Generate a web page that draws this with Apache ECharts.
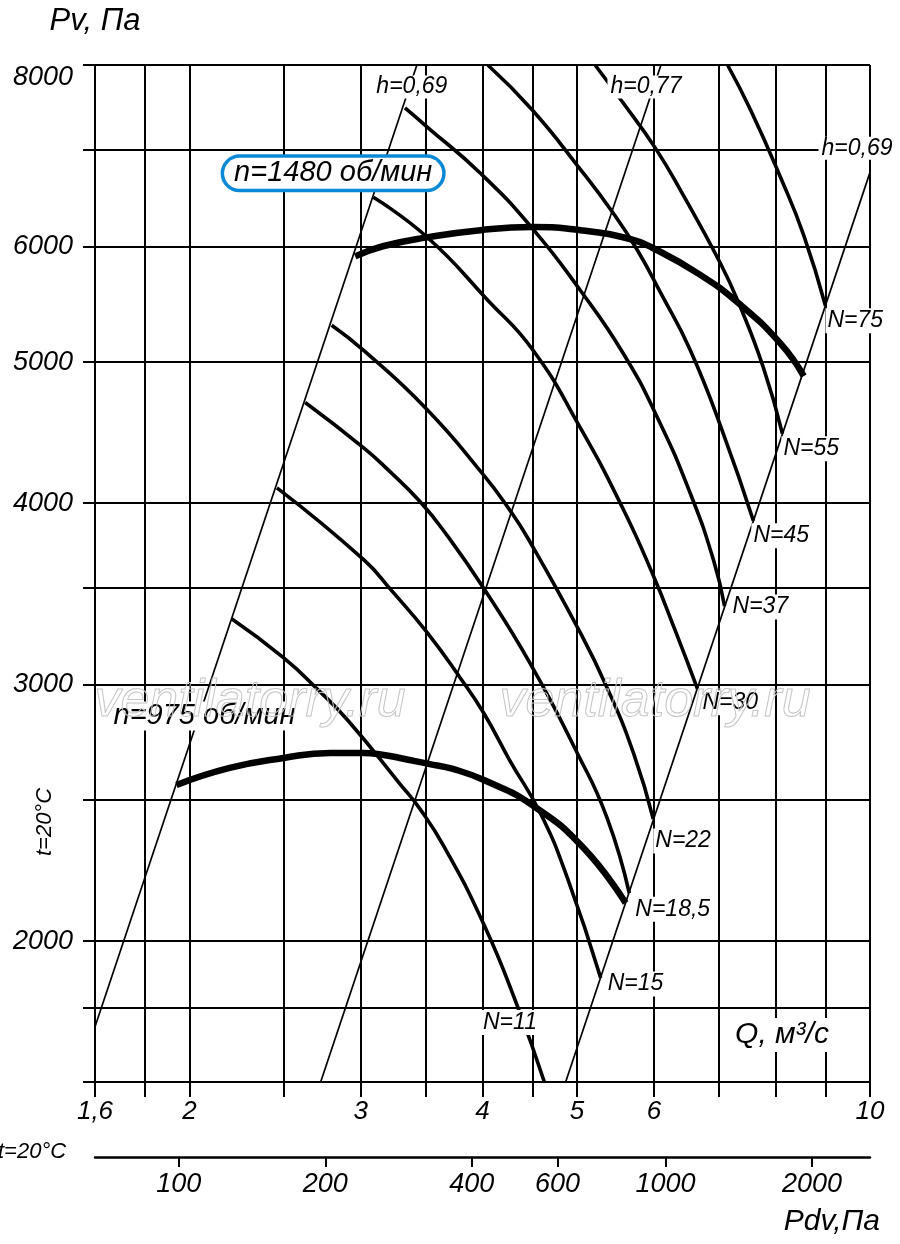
<!DOCTYPE html>
<html><head><meta charset="utf-8">
<script src="https://cdn.jsdelivr.net/npm/echarts@6/dist/echarts.min.js"></script>
<style>html,body{margin:0;padding:0;background:#fff}#c{width:900px;height:1244px}</style>
</head><body><div id="c"></div>
<script>
// ---------- axes ----------
const qGridTicks = [1.6, 1.8, 2, 2.5, 3, 3.5, 4, 4.5, 5, 6, 7, 8, 9, 10];
const qTickLabels = [1.6, 2, 3, 4, 5, 6, 10];
const pvGridTicks = [1600, 1800, 2000, 2500, 3000, 3500, 4000, 5000, 6000, 7000, 8000];
const pvTickLabels = [2000, 3000, 4000, 5000, 6000, 8000];
const pdvTicks = [100, 200, 400, 600, 1000, 2000];
const pdvRange = [67.3, 2630];   // Pdv at Q = 1.6 and Q = 10

// ---------- fan characteristics ----------
const fan1480Q  = [2.96, 3.16, 3.51, 3.98, 4.50, 5.04, 5.68, 5.99, 6.65, 7.31, 8.09, 8.55];
const fan1480Pv = [5910, 6005, 6090, 6160, 6190, 6160, 6072, 5986, 5755, 5495, 5150, 4890];
const fan975Q   = [1.94, 2.20, 2.50, 2.79, 3.02, 3.12, 3.29, 3.52, 3.73, 4.03, 4.51, 5.08, 5.61];
const fan975Pv  = [2560, 2630, 2672, 2693, 2693, 2689, 2672, 2647, 2626, 2577, 2477, 2317, 2124];

// ---------- power curves ----------
const n11Q  = [2.21, 2.50, 2.72, 2.91, 3.29, 3.45, 3.65, 4.01, 4.35, 4.63];
const n11Pv = [3330, 3130, 2970, 2835, 2565, 2465, 2324, 2055, 1800, 1600];
const n15Q  = [2.46, 3.02, 3.23, 3.51, 3.80, 4.01, 4.27, 4.59, 4.89, 5.29];
const n15Pv = [4097, 3657, 3479, 3258, 3029, 2870, 2659, 2446, 2209, 1886];
const n18Q  = [2.63, 3.02, 3.20, 3.45, 3.68, 4.01, 4.48, 5.01, 5.37, 5.66];
const n18Pv = [4689, 4365, 4215, 4009, 3799, 3496, 3101, 2689, 2430, 2157];
const n22Q  = [2.80, 3.02, 3.50, 4.00, 4.27, 4.45, 5.01, 5.37, 5.72, 5.99];
const n22Pv = [5299, 5092, 4645, 4190, 3952, 3786, 3283, 2986, 2689, 2426];
const n30Q  = [3.09, 3.51, 4.05, 4.51, 5.04, 5.57, 5.99, 6.31, 6.65];
const n30Pv = [6489, 6091, 5514, 5092, 4506, 3970, 3566, 3268, 2981];
const n37Q  = [3.33, 3.51, 3.98, 4.50, 5.04, 5.58, 6.05, 6.54, 6.91, 7.09];
const n37Pv = [7474, 7252, 6741, 6178, 5601, 5068, 4578, 4059, 3651, 3398];
const n45Q  = [4.05, 4.50, 5.02, 5.45, 5.77, 6.09, 6.54, 7.07, 7.59];
const n45Pv = [8000, 7450, 6807, 6327, 5967, 5584, 5092, 4463, 3889];
const n55Q  = [5.22, 5.57, 6.02, 6.43, 7.02, 7.31, 7.77, 8.13];
const n55Pv = [8000, 7545, 7014, 6510, 5846, 5514, 4958, 4463];
const n75Q  = [7.14, 7.54, 8.09, 8.55, 9.00];
const n75Pv = [8000, 7450, 6700, 6110, 5465];
const powerNames = ['N=11', 'N=15', 'N=18,5', 'N=22', 'N=30', 'N=37', 'N=45', 'N=55', 'N=75'];

// ---------- efficiency lines (Pv ~ Q^2) ----------
const hLeftQ  = [1.6, 3.425];  const hLeftPv  = [1746, 8000];
const hMidQ   = [2.728, 6.10]; const hMidPv   = [1600, 8000];
const hRightQ = [4.869, 10];   const hRightPv = [1600, 6750];
const hNames = ['h=0,69', 'h=0,77', 'h=0,69'];
const fanNames = ['n=1480 об/мин', 'n=975 об/мин'];

// ---------- layout / style (not data) ----------
const FONT = '"Liberation Sans", Arial, sans-serif';
const powerLabelLayout = [ // [anchorIndex(-1=last), dx, dy, align]
  [8, -8, 15, 'center'], [-1, 5, 6, 'left'], [-1, 4, 16, 'left'], [-1, 0, 22, 'left'],
  [-1, 3, 14, 'left'], [-1, 6, 1, 'left'], [-1, -2, 15, 'left'], [-1, -1, 15, 'left'], [-1, 0, 15, 'left']
];
const hLabelLayout = [[-5, 22], [-15, 22], [-13, -24]];

const pts = (q, pv) => q.map((x, i) => [x, pv[i]]);
const lineSeries = (q, pv, w, z, sm) => ({
  type: 'line', data: pts(q, pv), showSymbol: false, symbol: 'none', smooth: sm,
  lineStyle: { color: '#000', width: w, cap: 'butt' }, z: z, silent: true, animation: false
});

const powerQ = [n11Q, n15Q, n18Q, n22Q, n30Q, n37Q, n45Q, n55Q, n75Q];
const powerPv = [n11Pv, n15Pv, n18Pv, n22Pv, n30Pv, n37Pv, n45Pv, n55Pv, n75Pv];
const hQ = [hLeftQ, hMidQ, hRightQ];
const hPv = [hLeftPv, hMidPv, hRightPv];

const series = [];
hQ.forEach((q, i) => series.push(lineSeries(q, hPv[i], 1.7, 2, false)));
powerQ.forEach((q, i) => series.push(lineSeries(q, powerPv[i], 3.6, 3, 0.5)));
series.push(lineSeries(fan1480Q, fan1480Pv, 6.5, 4, 0.5));
series.push(lineSeries(fan975Q, fan975Pv, 6.5, 4, 0.5));

const baseLabel = {
  show: true, position: 'inside', color: '#000', opacity: 1, fontFamily: FONT, fontStyle: 'italic',
  fontSize: 23, backgroundColor: '#fff', padding: [1, 2], verticalAlign: 'middle'
};
const labelData = [];
powerQ.forEach((q, i) => {
  const [idx, dx, dy, al] = powerLabelLayout[i];
  const k = idx < 0 ? q.length - 1 : idx;
  labelData.push({ value: [q[k], powerPv[i][k]],
    label: Object.assign({}, baseLabel, { formatter: powerNames[i], offset: [dx, dy], align: al }) });
});
hQ.forEach((q, i) => {
  const k = q.length - 1;
  labelData.push({ value: [q[k], hPv[i][k]],
    label: Object.assign({}, baseLabel, { formatter: hNames[i], offset: hLabelLayout[i], align: 'center', padding: [0, 3] }) });
});
labelData.push({ value: [fan1480Q[0], fan1480Pv[0]],
  label: Object.assign({}, baseLabel, { formatter: fanNames[0], offset: [-22, -83], align: 'center',
    fontSize: 29, lineHeight: 29, padding: [1, 10, 1, 10], borderColor: '#0a8ad6', borderWidth: 3.5, borderRadius: 17 }) });
labelData.push({ value: [fan975Q[0], fan975Pv[0]],
  label: Object.assign({}, baseLabel, { formatter: fanNames[1], offset: [28, -69], align: 'center',
    fontSize: 29, padding: [0, 2] }) });

series.push({
  type: 'scatter', data: labelData, symbol: 'circle', symbolSize: 1, clip: false,
  itemStyle: { color: 'rgba(0,0,0,0)', opacity: 1 }, z: 10, silent: true, animation: false
});

const axisLineStyle = { color: '#000', width: 2 };
const tickFont = { color: '#000', fontFamily: FONT, fontStyle: 'italic', fontSize: 26 };

const option = {
  backgroundColor: '#fff',
  animation: false,
  grid: { left: 95, right: 30, top: 65, bottom: 162, containLabel: false },
  xAxis: [
    {
      type: 'log', logBase: 10, min: 1.6, max: 10, position: 'bottom',
      axisLine: { show: true, lineStyle: axisLineStyle },
      axisTick: { show: true, inside: false, length: 15, customValues: qGridTicks, lineStyle: axisLineStyle },
      axisLabel: Object.assign({ customValues: qTickLabels, margin: 17,
        formatter: v => String(+v.toFixed(2)).replace('.', ',') }, tickFont),
      splitLine: { show: true, lineStyle: axisLineStyle }
    },
    {
      type: 'log', logBase: 10, min: pdvRange[0], max: pdvRange[1], position: 'bottom', offset: 75,
      axisLine: { show: true, lineStyle: { color: '#000', width: 2.5 } },
      axisTick: { show: true, inside: false, length: 10, customValues: pdvTicks, lineStyle: axisLineStyle },
      axisLabel: Object.assign({ customValues: pdvTicks, margin: 14, formatter: v => String(Math.round(v)) }, tickFont, { fontSize: 27 }),
      splitLine: { show: false }
    }
  ],
  yAxis: {
    type: 'log', logBase: 10, min: 1600, max: 8000,
    name: 'Pv, Па', nameLocation: 'end', nameGap: 28,
    nameTextStyle: { color: '#000', fontFamily: FONT, fontStyle: 'italic', fontSize: 31, align: 'center' },
    axisLine: { show: true, lineStyle: axisLineStyle },
    axisTick: { show: true, inside: false, length: 12, customValues: pvGridTicks, lineStyle: axisLineStyle },
    axisLabel: Object.assign({ customValues: pvTickLabels, margin: 22,
      formatter: v => (Math.round(v) === 8000 ? '{t|8000}' : String(Math.round(v))),
      rich: { t: { padding: [24, 0, 0, 0], fontSize: 27, fontStyle: 'italic', fontFamily: FONT, color: '#000' } }
    }, tickFont, { fontSize: 27 }),
    splitLine: { show: true, lineStyle: axisLineStyle }
  },
  graphic: [
    { type: 'text', z: 100, x: 782, y: 1035, style: { text: 'Q, м³/с', font: 'italic 30px ' + FONT, fill: '#000',
      align: 'center', verticalAlign: 'middle', backgroundColor: '#fff', padding: [2, 4] } },
    { type: 'text', z: 100, x: 880, y: 1222, style: { text: 'Pdv,Па', font: 'italic 30px ' + FONT, fill: '#000',
      align: 'right', verticalAlign: 'middle' } },
    { type: 'text', z: 100, x: -2, y: 1152, style: { text: 't=20°C', font: 'italic 22px ' + FONT, fill: '#000',
      align: 'left', verticalAlign: 'middle' } },
    { type: 'text', z: 100, x: 45, y: 822, rotation: Math.PI / 2, style: { text: 't=20°C', font: 'italic 22px ' + FONT,
      fill: '#000', align: 'center', verticalAlign: 'middle' } },
    { type: 'text', z: 100, x: 250, y: 702, style: { text: 'ventilatorry.ru', font: 'italic 52px ' + FONT,
      fill: 'rgba(0,0,0,0)', stroke: '#c4c4c4', lineWidth: 1, align: 'center', verticalAlign: 'middle' } },
    { type: 'text', z: 100, x: 655, y: 702, style: { text: 'ventilatorry.ru', font: 'italic 52px ' + FONT,
      fill: 'rgba(0,0,0,0)', stroke: '#c4c4c4', lineWidth: 1, align: 'center', verticalAlign: 'middle' } }
  ],
  series: series
};

const chart = echarts.init(document.getElementById('c'));
chart.setOption(option);
</script>
</body></html>
